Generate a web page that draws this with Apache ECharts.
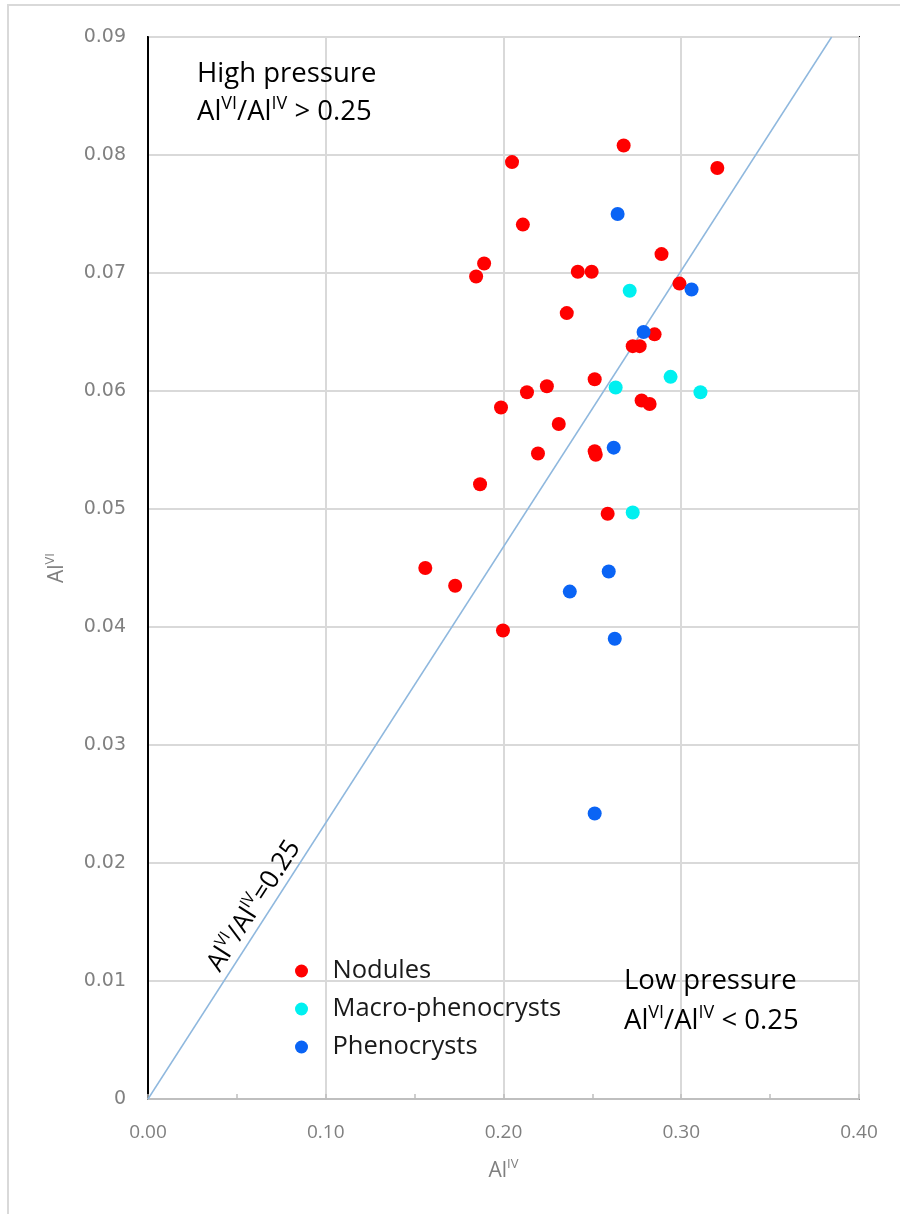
<!DOCTYPE html>
<html>
<head>
<meta charset="utf-8">
<script src="https://cdn.jsdelivr.net/npm/echarts@6/dist/echarts.min.js"></script>
<style>
html,body{margin:0;padding:0;background:#fff;}
#chart{width:900px;height:1214px;}
</style>
</head>
<body>
<div id="chart"></div>
<script>
// ---- Data ----
const seriesNames = ['Nodules', 'Macro-phenocrysts', 'Phenocrysts'];

const nodulesX = [0.2048, 0.2676, 0.3203, 0.2109, 0.2889, 0.1891, 0.1846, 0.2418, 0.2496, 0.2990,
                  0.2356, 0.2850, 0.2727, 0.2766, 0.2244, 0.2132, 0.2513, 0.2777, 0.2822, 0.1986,
                  0.2311, 0.2513, 0.2519, 0.2194, 0.1868, 0.2586, 0.1560, 0.1728, 0.1997];
const nodulesY = [0.0794, 0.0808, 0.0789, 0.0741, 0.0716, 0.0708, 0.0697, 0.0701, 0.0701, 0.0691,
                  0.0666, 0.0648, 0.0638, 0.0638, 0.0604, 0.0599, 0.0610, 0.0592, 0.0589, 0.0586,
                  0.0572, 0.0549, 0.0546, 0.0547, 0.0521, 0.0496, 0.0450, 0.0435, 0.0397];

const macroX = [0.2710, 0.2631, 0.2940, 0.3108, 0.2727];
const macroY = [0.0685, 0.0603, 0.0612, 0.0599, 0.0497];

const phenoX = [0.2642, 0.3058, 0.2788, 0.2620, 0.2592, 0.2373, 0.2626, 0.2513];
const phenoY = [0.0750, 0.0686, 0.0650, 0.0552, 0.0447, 0.0430, 0.0390, 0.0242];

// Reference line (as drawn)
const refLineX = [0, 0.3846];
const refLineY = [0, 0.09];

const xTicks = [0.00, 0.10, 0.20, 0.30, 0.40];
const yTicks = [0, 0.01, 0.02, 0.03, 0.04, 0.05, 0.06, 0.07, 0.08, 0.09];

const zip = (xs, ys) => xs.map((x, i) => [x, ys[i]]);

const FONT = 'Open Sans';
const rich = {
  n: {fontSize: 27.5, fontFamily: FONT, color: '#1a1a1a', lineHeight: 35},
  s: {fontSize: 18, fontFamily: FONT, color: '#1a1a1a', verticalAlign: 'top', lineHeight: 35}
};
const nameRich = {
  a: {fontSize: 21, fontFamily: FONT, color: '#7f7f7f', lineHeight: 26},
  b: {fontSize: 13, fontFamily: FONT, color: '#7f7f7f', verticalAlign: 'top', lineHeight: 26}
};

const chart = echarts.init(document.getElementById('chart'), null, {renderer: 'canvas'});

const option = {
  backgroundColor: '#ffffff',
  animation: false,
  grid: {
    left: 148, right: 41, top: 37, bottom: 115,
    show: true, borderColor: '#000000', borderWidth: 2, backgroundColor: 'transparent'
  },
  xAxis: {
    type: 'value',
    min: xTicks[0], max: xTicks[xTicks.length - 1], interval: 0.1,
    name: '{a|Al}{b|IV}',
    nameLocation: 'middle',
    nameGap: 59,
    nameTextStyle: {rich: nameRich},
    axisLine: {show: true, onZero: false, lineStyle: {color: '#bfbfbf', width: 2}},
    axisTick: {show: true, inside: true, length: 5, lineStyle: {color: '#bfbfbf', width: 1.5}},
    minorTick: {show: true, splitNumber: 2, length: 5, lineStyle: {color: '#bfbfbf', width: 1.5}},
    axisLabel: {
      fontSize: 19, fontFamily: FONT, color: '#7f7f7f', margin: 24,
      formatter: v => v.toFixed(2)
    },
    splitLine: {show: true, lineStyle: {color: '#d9d9d9', width: 2}}
  },
  yAxis: {
    type: 'value',
    min: yTicks[0], max: yTicks[yTicks.length - 1], interval: 0.01,
    name: '{a|Al}{b|VI}',
    nameLocation: 'middle',
    nameGap: 78,
    nameRotate: 90,
    nameTextStyle: {rich: nameRich},
    axisLine: {show: true, onZero: false, lineStyle: {color: '#000000', width: 2}},
    axisTick: {show: false},
    axisLabel: {
      fontSize: 19, fontFamily: 'DejaVu Sans', color: '#808080', margin: 22,
      formatter: v => (v === 0 ? '0' : v.toFixed(2))
    },
    splitLine: {show: true, lineStyle: {color: '#d9d9d9', width: 2}}
  },
  legend: {
    orient: 'vertical',
    left: 290, top: 952,
    itemWidth: 52, itemHeight: 13, itemGap: 10,
    data: seriesNames,
    textStyle: {fontSize: 25.5, fontFamily: FONT, color: '#1a1a1a', lineHeight: 28}
  },
  series: [
    {
      name: 'refLine', type: 'line', data: zip(refLineX, refLineY),
      symbol: 'none', silent: true, z: 1,
      lineStyle: {color: '#8fb8de', width: 1.5}
    },
    {
      name: seriesNames[0], type: 'scatter', data: zip(nodulesX, nodulesY),
      symbolSize: 14, itemStyle: {color: '#ff0000', opacity: 1}, z: 3
    },
    {
      name: seriesNames[1], type: 'scatter', data: zip(macroX, macroY),
      symbolSize: 14, itemStyle: {color: '#00f0f0', opacity: 1}, z: 3
    },
    {
      name: seriesNames[2], type: 'scatter', data: zip(phenoX, phenoY),
      symbolSize: 14, itemStyle: {color: '#0a64f5', opacity: 1}, z: 3
    }
  ],
  graphic: [
    {
      type: 'rect', silent: true, z: -10,
      shape: {x: 8, y: 5, width: 920, height: 1250},
      style: {fill: 'none', stroke: '#d9d9d9', lineWidth: 2}
    },
    {
      type: 'text', left: 197, top: 60, z: 100,
      style: {text: '{n|High pressure}', rich: rich}
    },
    {
      type: 'text', left: 197, top: 95, z: 100,
      style: {text: '{n|Al}{s|VI}{n|/Al}{s|IV}{n| > 0.25}', rich: rich}
    },
    {
      type: 'text', left: 624, top: 967, z: 100,
      style: {text: '{n|Low pressure}', rich: rich}
    },
    {
      type: 'text', left: 624, top: 1004, z: 100,
      style: {text: '{n|Al}{s|VI}{n|/Al}{s|IV}{n| < 0.25}', rich: rich}
    },
    {
      type: 'text', x: 254, y: 906, rotation: 57.2 * Math.PI / 180, z: 100,
      style: {
        text: '{n|Al}{s|VI}{n|/Al}{s|IV}{n|=0.25}',
        align: 'center', verticalAlign: 'middle',
        rich: {
          n: {fontSize: 26, fontFamily: FONT, color: '#1a1a1a', lineHeight: 32},
          s: {fontSize: 16, fontFamily: FONT, color: '#1a1a1a', verticalAlign: 'top', lineHeight: 32}
        }
      }
    }
  ]
};

chart.setOption(option);
</script>
</body>
</html>
